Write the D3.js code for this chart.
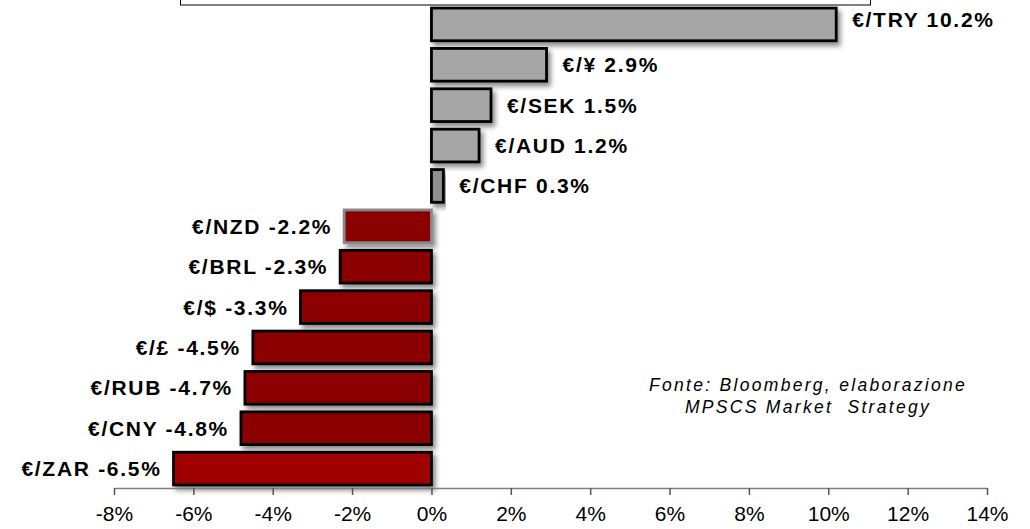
<!DOCTYPE html>
<html>
<head>
<meta charset="utf-8">
<script src="https://cdn.jsdelivr.net/npm/d3@7"></script>
<style>
  body { margin: 0; background: #fff; }
  svg { display: block; }
  text { white-space: pre; }
</style>
</head>
<body>
<div id="chart"></div>
<script>
// Chart data
const pairs = ['€/TRY', '€/¥', '€/SEK', '€/AUD', '€/CHF', '€/NZD', '€/BRL', '€/$', '€/£', '€/RUB', '€/CNY', '€/ZAR'];
const changes = [10.2, 2.9, 1.5, 1.2, 0.3, -2.2, -2.3, -3.3, -4.5, -4.7, -4.8, -6.5];
const tickValues = [-8, -6, -4, -2, 0, 2, 4, 6, 8, 10, 12, 14];
const sourceLines = ['Fonte: Bloomberg, elaborazione', 'MPSCS Market  Strategy'];

const width = 1030, height = 529;

const svg = d3.select('#chart').append('svg')
    .attr('width', width)
    .attr('height', height);

// drop shadow for bars
const defs = svg.append('defs');
const shadow = defs.append('filter')
    .attr('id', 'shadow')
    .attr('x', '-10%').attr('y', '-20%')
    .attr('width', '130%').attr('height', '160%');
shadow.append('feDropShadow')
    .attr('dx', 3).attr('dy', 4)
    .attr('stdDeviation', 2.5)
    .attr('flood-color', '#000')
    .attr('flood-opacity', 0.45);

const x = d3.scaleLinear()
    .domain([-8, 14])
    .range([114, 987]);

const y = d3.scaleBand()
    .domain(pairs)
    .range([4, 489])
    .paddingInner(0.19)
    .paddingOuter(0.1);

// partial box at the top (cut-off legend frame)
svg.append('rect')
    .attr('x', 180.5)
    .attr('y', -20)
    .attr('width', 690)
    .attr('height', 25)
    .attr('fill', 'none')
    .attr('stroke', '#000')
    .attr('stroke-width', 1);

const data = pairs.map((p, i) => ({ pair: p, value: changes[i] }));

function fillFor(d) {
    if (d.pair === '€/ZAR') return '#a00000';
    if (d.value < 0) return '#8b0000';
    if (d.pair === '€/CHF') return '#8f8f8f';
    return '#a6a6a6';
}

svg.append('g')
    .selectAll('rect')
    .data(data)
    .join('rect')
    .attr('x', d => x(Math.min(0, d.value)))
    .attr('y', d => y(d.pair))
    .attr('width', d => Math.abs(x(d.value) - x(0)))
    .attr('height', y.bandwidth())
    .attr('fill', fillFor)
    .attr('stroke', d => d.pair === '€/NZD' ? '#888' : '#000')
    .attr('stroke-width', 2.8)
    .attr('filter', 'url(#shadow)');

// value labels
svg.append('g')
    .selectAll('text')
    .data(data)
    .join('text')
    .attr('x', d => d.value >= 0 ? x(d.value) + 16 : x(d.value) - 12)
    .attr('y', d => y(d.pair) + y.bandwidth() / 2 - (d.pair === '€/TRY' ? 5 : 0))
    .attr('dy', '0.36em')
    .attr('text-anchor', d => d.value >= 0 ? 'start' : 'end')
    .attr('font-family', 'Liberation Sans, Arial, sans-serif')
    .attr('font-weight', 'bold')
    .attr('font-size', 21)
    .attr('letter-spacing', 1.7)
    .attr('fill', '#000')
    .text(d => `${d.pair} ${d.value.toFixed(1)}%`);

// x axis
const axis = svg.append('g')
    .attr('transform', 'translate(0,488)')
    .call(d3.axisBottom(x)
        .tickValues(tickValues)
        .tickSize(7)
        .tickSizeOuter(0)
        .tickPadding(11)
        .tickFormat(d => d + '%'));

axis.select('.domain').attr('stroke', '#808080').attr('stroke-width', 1.5);
axis.selectAll('.tick line').attr('stroke', '#555').attr('stroke-width', 1.5);
axis.selectAll('.tick text')
    .attr('font-family', 'Liberation Sans, Arial, sans-serif')
    .attr('font-size', 21)
    .attr('fill', '#000');

// source note
svg.append('text')
    .attr('x', 808)
    .attr('y', 391)
    .attr('text-anchor', 'middle')
    .attr('font-family', 'Liberation Sans, Arial, sans-serif')
    .attr('font-style', 'italic')
    .attr('font-size', 17.5)
    .attr('letter-spacing', 2.3)
    .attr('fill', '#000')
    .selectAll('tspan')
    .data(sourceLines)
    .join('tspan')
    .attr('x', 808)
    .attr('dy', (d, i) => i === 0 ? 0 : 22)
    .text(d => d);
</script>
</body>
</html>
